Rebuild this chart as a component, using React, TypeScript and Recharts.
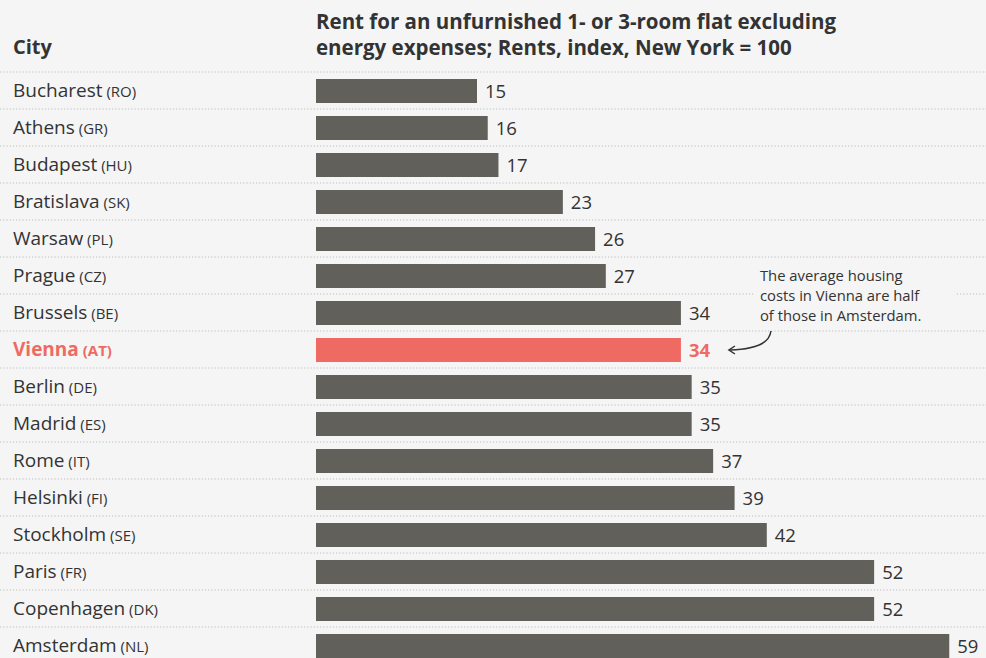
import React from 'react';
import { BarChart, Bar, XAxis, YAxis, Cell, LabelList } from 'recharts';

const cities = ['Bucharest', 'Athens', 'Budapest', 'Bratislava', 'Warsaw', 'Prague', 'Brussels', 'Vienna', 'Berlin', 'Madrid', 'Rome', 'Helsinki', 'Stockholm', 'Paris', 'Copenhagen', 'Amsterdam'];
const codes = ['RO', 'GR', 'HU', 'SK', 'PL', 'CZ', 'BE', 'AT', 'DE', 'ES', 'IT', 'FI', 'SE', 'FR', 'DK', 'NL'];
const rents = [15, 16, 17, 23, 26, 27, 34, 34, 35, 35, 37, 39, 42, 52, 52, 59];
const highlight = 'Vienna';
const annotation = ['The average housing', 'costs in Vienna are half', 'of those in Amsterdam.'];

const data = cities.map((city, i) => ({ city, code: codes[i], rent: rents[i] }));

const FONT = '"Open Sans", sans-serif';
const TEXT = '#333333';
const BAR = '#62605b';
const RED = '#ee6a62';
const BAND = 37;

const CityTick = (props: any) => {
  const { y, payload, index } = props;
  const row = data[index] || data.find((d) => d.city === payload.value);
  const hot = payload.value === highlight;
  return (
    <g>
      <line x1={0} x2={986} y1={y - BAND / 2} y2={y - BAND / 2} stroke="#bdbdbd" strokeDasharray="1.2 2" />
      <text x={13} y={y} dy={6.5} fontFamily={FONT} fill={hot ? RED : TEXT} fontWeight={hot ? 700 : 400} fontSize={19}>
        {payload.value}
        <tspan fontSize={15}>{' (' + (row ? row.code : '') + ')'}</tspan>
      </text>
    </g>
  );
};

const ValueLabel = (props: any) => {
  const { x, y, width, height, value, index } = props;
  const hot = data[index].city === highlight;
  const lx = x + width + 8;
  const cy = y + height / 2;
  return (
    <g>
      <text x={lx} y={cy} dy={6.5} fontFamily={FONT} fontSize={18.5} fill={hot ? RED : TEXT} fontWeight={hot ? 700 : 400}>
        {value}
      </text>
      {hot && (
        <g>
          <rect x={lx + 66} y={cy - 85} width={200} height={61} fill="#f5f5f5" />
          {annotation.map((t, i) => (
            <text key={i} x={lx + 71} y={cy - 74 + i * 20} dy={5} fontFamily={FONT} fontSize={14.8} fill={TEXT}>
              {t}
            </text>
          ))}
          <path d={`M ${lx + 82} ${cy - 19} Q ${lx + 80} ${cy - 1} ${lx + 41} ${cy}`} fill="none" stroke={TEXT} strokeWidth={1.5} />
          <path d={`M ${lx + 46} ${cy - 4} L ${lx + 40} ${cy} L ${lx + 46} ${cy + 4}`} fill="none" stroke={TEXT} strokeWidth={1.5} />
        </g>
      )}
    </g>
  );
};

export default function App() {
  return (
    <div style={{ position: 'absolute', left: 0, top: 0, width: 986, height: 658, overflow: 'hidden', background: '#f5f5f5', fontFamily: FONT, color: TEXT }}>
      <div style={{ position: 'absolute', left: 13, top: 33, fontSize: 20, fontWeight: 700 }}>City</div>
      <div style={{ position: 'absolute', left: 316, top: 8, fontSize: 20.5, fontWeight: 700, lineHeight: '26px', width: 660 }}>
        Rent for an unfurnished 1- or 3-room flat excluding
        <br />
        energy expenses; Rents, index, New York = 100
      </div>
      <BarChart
        width={986}
        height={664}
        data={data}
        layout="vertical"
        margin={{ top: 72, right: 26, bottom: 0, left: 0 }}
        barSize={24}
      >
        <XAxis type="number" domain={[0, 60]} hide />
        <YAxis type="category" dataKey="city" width={316} axisLine={false} tickLine={false} tick={<CityTick />} interval={0} />
        <Bar dataKey="rent" isAnimationActive={false}>
          {data.map((d) => (
            <Cell key={d.city} fill={d.city === highlight ? RED : BAR} />
          ))}
          <LabelList dataKey="rent" content={<ValueLabel />} />
        </Bar>
      </BarChart>
    </div>
  );
}
